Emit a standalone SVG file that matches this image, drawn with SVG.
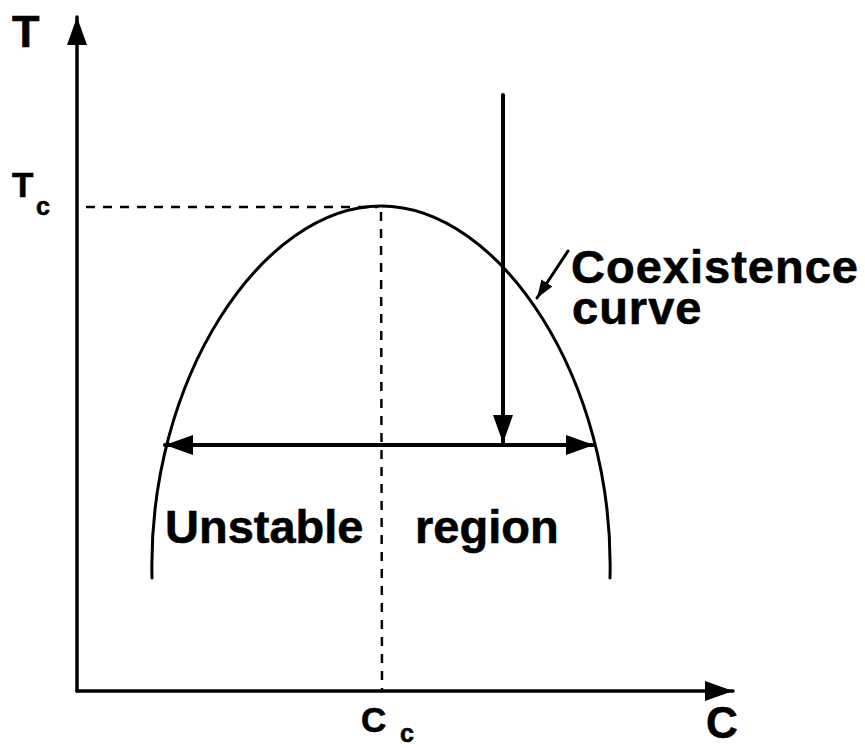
<svg xmlns="http://www.w3.org/2000/svg" width="865" height="748" viewBox="0 0 865 748">
<style>
text{font-family:"Liberation Sans",Arial,sans-serif;font-weight:bold;fill:#000;stroke:#000;stroke-width:0.6}
.ln{stroke:#000;fill:none;stroke-linecap:round}
.dash{stroke:#000;fill:none;stroke-width:2.5;stroke-dasharray:9 8}
.big{font-size:47px}
</style>
<defs>
<marker id="ah" markerUnits="userSpaceOnUse" viewBox="0 0 28 20" refX="28" refY="10" markerWidth="28" markerHeight="20" orient="auto">
<path d="M0,0 L28,10 L0,20 Z" fill="#000"/>
</marker>
<marker id="ahs" markerUnits="userSpaceOnUse" viewBox="0 0 18 13" refX="18" refY="6.5" markerWidth="18" markerHeight="13" orient="auto">
<path d="M0,0 L18,6.5 L0,13 Z" fill="#000"/>
</marker>
</defs>
<rect width="865" height="748" fill="#fff"/>
<g id="axes">
<line class="ln" x1="77" y1="691" x2="77" y2="17" stroke-width="3.5" marker-end="url(#ah)"/>
<line class="ln" x1="77" y1="691" x2="733" y2="691" stroke-width="3.5" marker-end="url(#ah)"/>
<text id="T" x="12" y="47" style="font-size:45px">T</text>
<text id="C" x="706" y="738" style="font-size:44px">C</text>
</g>
<g id="critical">
<line class="dash" x1="86" y1="207" x2="378" y2="207"/>
<line class="dash" x1="381" y1="212" x2="382" y2="690"/>
<text x="12" y="197" style="font-size:35px">T</text>
<text x="36" y="215" style="font-size:25px">c</text>
<text x="361" y="732" style="font-size:35px">C</text>
<text x="400" y="742" style="font-size:25px">c</text>
</g>
<g id="curve">
<path class="ln" stroke-width="3" d="M152,578 C147,380 262,206 381,206 C500,206 615,380 610,578"/>
</g>
<g id="connectors">
<line class="ln" x1="503" y1="95" x2="503" y2="443" stroke-width="4" marker-end="url(#ah)"/>
<line class="ln" x1="380" y1="445" x2="165" y2="445" stroke-width="4" marker-end="url(#ah)"/>
<line class="ln" x1="380" y1="445" x2="594" y2="445" stroke-width="4" marker-end="url(#ah)"/>
<line class="ln" x1="568" y1="251" x2="537" y2="298" stroke-width="3" marker-end="url(#ahs)"/>
</g>
<g id="labels">
<text class="big" x="571" y="283" style="letter-spacing:1px">Coexistence</text>
<text class="big" x="572" y="324" style="letter-spacing:1px">curve</text>
<text class="big" x="165" y="543">Unstable</text>
<text class="big" x="415" y="543">region</text>
</g>
</svg>
